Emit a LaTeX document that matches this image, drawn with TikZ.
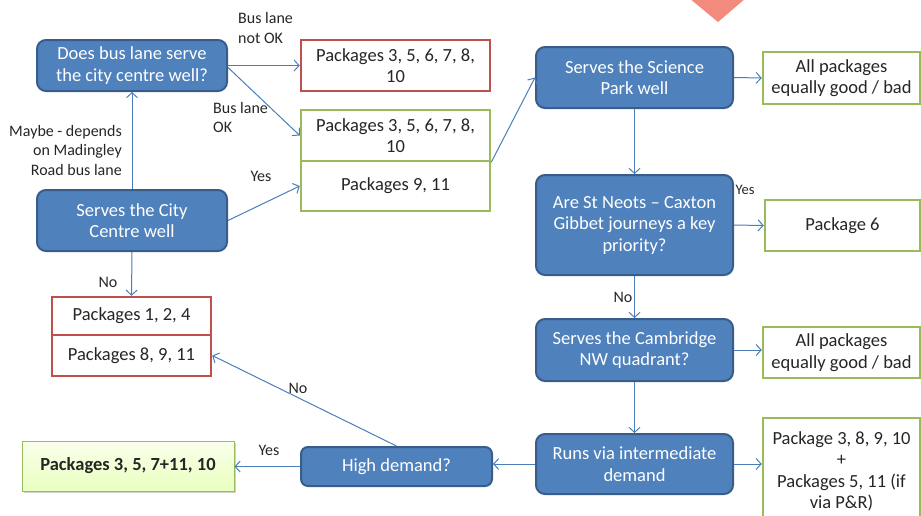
\documentclass[tikz,border=0pt]{standalone}
\usepackage{fontspec}
\setmainfont{Carlito}
\usetikzlibrary{arrows.meta}
\usetikzlibrary{shadows}
\usetikzlibrary{positioning}

\definecolor{qblue}{RGB}{79,129,189}
\definecolor{qborder}{RGB}{56,93,138}
\definecolor{pred}{RGB}{192,80,77}
\definecolor{pgreen}{RGB}{155,187,89}
\definecolor{arblue}{RGB}{74,126,187}
\definecolor{txtgrey}{RGB}{38,38,38}
\definecolor{fadered}{RGB}{242,138,126}

\begin{document}
\begin{tikzpicture}[
    x=1pt, y=-1pt,
    font=\fontsize{18.5}{21.5}\selectfont,
    >={Straight Barb[length=5pt,width=11pt]}
]
\tikzset{
    qnode/.style = {rectangle, rounded corners=9pt, draw=qborder, line width=2pt,
                    fill=qblue, text=white, align=center, inner sep=0pt},
    rnode/.style = {rectangle, draw=pred, line width=2.5pt, fill=white,
                    text=txtgrey, align=center, inner sep=0pt},
    gnode/.style = {rectangle, draw=pgreen, line width=2.5pt, fill=white,
                    text=txtgrey, align=center, inner sep=0pt},
    resnode/.style = {rectangle, draw=pgreen, line width=1pt,
                      top color=green!25!yellow!8, bottom color=green!35!yellow!25!white,
                      drop shadow={shadow xshift=1.5pt, shadow yshift=-2pt, opacity=0.35},
                      text=txtgrey, align=center, inner sep=0pt, font=\fontsize{18.5}{21.5}\selectfont\bfseries},
    lbl/.style = {text=txtgrey, inner sep=0pt, font=\fontsize{16}{19.5}\selectfont},
    edgea/.style = {->, draw=arblue, line width=1pt}
}
\useasboundingbox (0,0) rectangle (921,515);

% faded shape at the top
\fill[fadered] (689,-2) -- (718,22) -- (746,-2) -- cycle;

% left column
\node[qnode, minimum width=190, minimum height=51] at (132,65.5) (q1) {Does bus lane serve\\the city centre well?};
\node[qnode, minimum width=190, minimum height=61] at (132,220.5) (q2) {Serves the City\\Centre well};
\node[rnode, minimum width=159, minimum height=38] at (131.5,316) (p1) {Packages 1, 2, 4};
\node[rnode, minimum width=159, minimum height=41] at (131.5,355.5) (p2) {Packages 8, 9, 11};
\node[resnode, minimum width=212, minimum height=50] at (128,466) (res) {Packages 3, 5, 7+11, 10};

% middle column
\node[rnode, minimum width=189, minimum height=51] at (395.5,65.5) (r1) {Packages 3, 5, 6, 7, 8,\\10};
\node[gnode, minimum width=189, minimum height=51] at (395.5,135.5) (g1) {Packages 3, 5, 6, 7, 8,\\10};
\node[gnode, minimum width=189, minimum height=50] at (395.5,186) (g2) {Packages 9, 11};
\node[qnode, rounded corners=7pt, minimum width=191, minimum height=39] at (396.5,466.5) (q7) {High demand?};

% right column
\node[qnode, minimum width=197, minimum height=61] at (634.5,77.5) (q3) {Serves the Science\\Park well};
\node[qnode, minimum width=197, minimum height=100] at (634.5,225) (q4) {Are St Neots -- Caxton\\Gibbet journeys a key\\priority?};
\node[qnode, minimum width=197, minimum height=62] at (634.5,350) (q5) {Serves the Cambridge\\NW quadrant?};
\node[qnode, minimum width=197, minimum height=60] at (634.5,464) (q6) {Runs via intermediate\\demand};

\node[gnode, minimum width=157, minimum height=52] at (841.5,78) (g3) {All packages\\equally good / bad};
\node[gnode, minimum width=155, minimum height=51] at (842.5,225.5) (g4) {Package 6};
\node[gnode, minimum width=157, minimum height=51] at (841.5,352.5) (g5) {All packages\\equally good / bad};
\node[gnode, minimum width=157, minimum height=107] at (841.5,471.5) (g6) {Package 3, 8, 9, 10\\+\\Packages 5, 11 (if\\via P\&R)};

% labels
\node[lbl, anchor=west, align=left] at (238,28) (lnotok) {Bus lane\\not OK};
\node[lbl, anchor=west, align=left] at (213,117.5) (lok) {Bus lane\\OK};
\node[lbl, anchor=east, align=right] at (122,150) (lmaybe) {Maybe - depends\\on Madingley\\Road bus lane};
\node[lbl] at (261,176) (lyesa) {Yes};
\node[lbl] at (108,282) (lnoa) {No};
\node[lbl, font=\fontsize{14.5}{16}\selectfont] at (745,190) (lyesb) {Yes};
\node[lbl] at (623,297) (lnob) {No};
\node[lbl] at (298,388) (lnoc) {No};
\node[lbl] at (269,450) (lyesc) {Yes};

% connectors
\draw[edgea] (q2.north) -- (q1.south);
\draw[edgea] (q1.east) -- (r1.west);
\draw[edgea] ([yshift=-2pt]q1.east) -- (g1.west);
\draw[edgea] (q2.east) -- (g2.west);
\draw[edgea] (q2.south) -- (p1.north);
\draw[edgea] (g1.south east) -- (q3.west);
\draw[edgea] (q3.east) -- (g3.west);
\draw[edgea] (q3.south) -- (q4.north);
\draw[edgea] (q4.east) -- (g4.west);
\draw[edgea] (q4.south) -- (q5.north);
\draw[edgea] (q5.east) -- (q5.east -| g5.west);
\draw[edgea] (q5.south) -- (q6.north);
\draw[edgea] (q6.east) -- (q6.east -| g6.west);
\draw[edgea] (q6.west) -- (q6.west -| q7.east);
\draw[edgea] (q7.west) -- (q7.west -| res.east);
\draw[edgea] (q7.north) -- (p2.east);
\end{tikzpicture}
\end{document}
